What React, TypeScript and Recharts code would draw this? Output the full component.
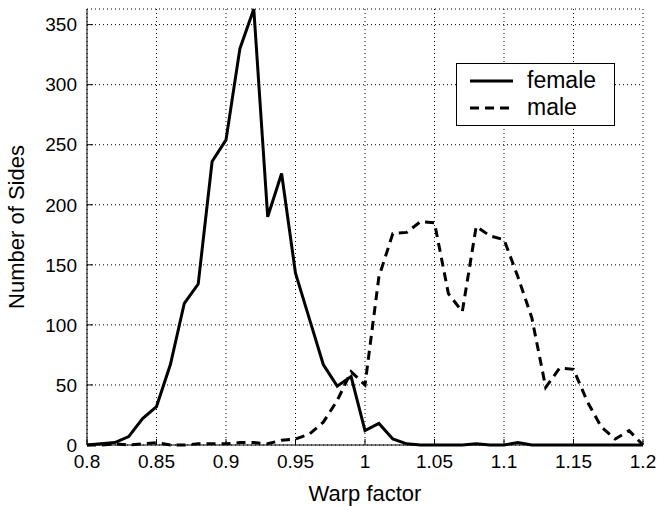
import React from 'react';
import { LineChart, Line, XAxis, YAxis, CartesianGrid, Legend } from 'recharts';

const warp = [
  0.8, 0.81, 0.82, 0.83, 0.84, 0.85, 0.86, 0.87, 0.88, 0.89,
  0.9, 0.91, 0.92, 0.93, 0.94, 0.95, 0.96, 0.97, 0.98, 0.99,
  1.0, 1.01, 1.02, 1.03, 1.04, 1.05, 1.06, 1.07, 1.08, 1.09,
  1.1, 1.11, 1.12, 1.13, 1.14, 1.15, 1.16, 1.17, 1.18, 1.19, 1.2,
];

const female = [
  0, 1, 2, 7, 22, 32, 67, 118, 134, 236,
  254, 330, 363, 190, 226, 143, 105, 67, 49, 57,
  12, 18, 5, 1, 0, 0, 0, 0, 1, 0,
  0, 2, 0, 0, 0, 0, 0, 0, 0, 0, 0,
];

const male = [
  0, 0, 1, 0, 1, 2, 0, 0, 1, 1,
  1, 2, 2, 1, 4, 5, 9, 19, 37, 61,
  50, 140, 176, 177, 186, 185, 126, 111, 182, 174,
  171, 140, 106, 48, 64, 63, 36, 15, 5, 12, 0,
];

const xTicks = [0.8, 0.85, 0.9, 0.95, 1, 1.05, 1.1, 1.15, 1.2];
const yTicks = [0, 50, 100, 150, 200, 250, 300, 350];

const data = warp.map((w, i) => ({ w, female: female[i], male: male[i] }));

const FONT = '"Liberation Sans", Arial, Helvetica, sans-serif';
const tickStyle = { fill: '#000', fontSize: 19, fontFamily: FONT };

function LegendBox(): JSX.Element {
  const rows = [
    { name: 'female', dash: undefined },
    { name: 'male', dash: '9 6' },
  ];
  return (
    <div
      style={{
        width: 159,
        height: 63,
        border: '1px solid #000',
        background: '#fff',
        boxSizing: 'border-box',
        fontFamily: FONT,
        fontSize: 23,
        paddingTop: 3,
      }}
    >
      {rows.map((r) => (
        <div key={r.name} style={{ display: 'flex', alignItems: 'center', height: 27 }}>
          <svg width={70} height={10}>
            <line x1={13} x2={56} y1={5} y2={5} stroke="#000" strokeWidth={3} strokeDasharray={r.dash} />
          </svg>
          <span style={{ lineHeight: '27px' }}>{r.name}</span>
        </div>
      ))}
    </div>
  );
}

export default function App(): JSX.Element {
  return (
    <div style={{ position: 'absolute', left: 0, top: 0, width: 669, height: 506, background: '#fff' }}>
      <LineChart width={669} height={506} data={data} margin={{ top: 9, right: 26, left: 0, bottom: 0 }}>
        <CartesianGrid stroke="#000" strokeDasharray="1 3" strokeWidth={1} />
        <XAxis
          dataKey="w"
          type="number"
          domain={[0.8, 1.2]}
          ticks={xTicks}
          tickFormatter={(v: number) => String(v)}
          height={61}
          tickSize={-6}
          tickMargin={16}
          axisLine={{ stroke: '#000', strokeWidth: 1 }}
          tickLine={{ stroke: '#000' }}
          tick={tickStyle}
          label={{ value: 'Warp factor', position: 'insideBottom', offset: 5, fill: '#000', fontSize: 22, fontFamily: FONT }}
        />
        <XAxis
          xAxisId="top"
          orientation="top"
          type="number"
          domain={[0.8, 1.2]}
          ticks={xTicks}
          height={0}
          tickSize={-6}
          tick={false}
          axisLine={{ stroke: '#000', strokeWidth: 1 }}
          tickLine={{ stroke: '#000' }}
        />
        <YAxis
          type="number"
          domain={[0, 363]}
          ticks={yTicks}
          width={87}
          tickSize={-6}
          tickMargin={16}
          axisLine={{ stroke: '#000', strokeWidth: 1 }}
          tickLine={{ stroke: '#000' }}
          tick={tickStyle}
          label={{
            value: 'Number of Sides',
            angle: -90,
            position: 'insideLeft',
            offset: 22,
            dx: -6,
            fill: '#000',
            fontSize: 22,
            fontFamily: FONT,
            style: { textAnchor: 'middle' },
          }}
        />
        <YAxis
          yAxisId="right"
          orientation="right"
          type="number"
          domain={[0, 363]}
          ticks={yTicks}
          width={0}
          tickSize={-6}
          tick={false}
          axisLine={{ stroke: '#000', strokeWidth: 1 }}
          tickLine={{ stroke: '#000' }}
        />
        <Legend
          layout="vertical"
          align="center"
          verticalAlign="middle"
          content={() => <LegendBox />}
          wrapperStyle={{ left: 456, top: 63, width: 159, height: 63 }}
        />
        <Line
          name="female"
          dataKey="female"
          type="linear"
          stroke="#000"
          strokeWidth={3}
          dot={false}
          isAnimationActive={false}
        />
        <Line
          name="male"
          dataKey="male"
          type="linear"
          stroke="#000"
          strokeWidth={3}
          strokeDasharray="9 6"
          dot={false}
          isAnimationActive={false}
        />
      </LineChart>
    </div>
  );
}
